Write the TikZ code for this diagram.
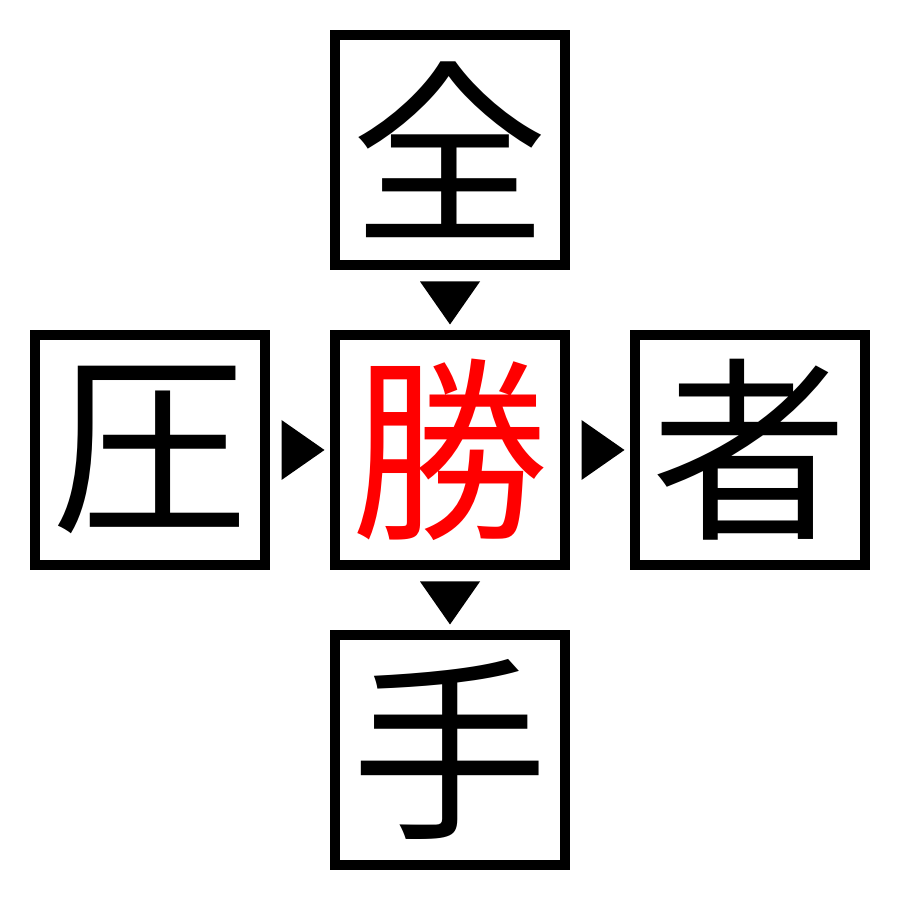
\documentclass[tikz,border=0pt]{standalone}
\usepackage{fontspec}
\newfontfamily\cjk{Noto Sans CJK JP}
\usetikzlibrary{calc}
\tikzset{
	kanji/.style={draw, line width=1mm, minimum size=2.3cm, inner sep=0pt,
		font=\cjk\fontsize{56}{56}\selectfont}
}
\begin{document}
\begin{tikzpicture}[line join=miter]
		\def\d{3} % Abstand der Kästchen
		\useasboundingbox (0,0) rectangle (9,9);
		\node[kanji] (mid) at (4.5,4.5) {\textcolor{red}{勝}};
		\node[kanji] (top) at (4.5,4.5+\d) {全};
		\node[kanji] (left) at (4.5-\d,4.5) {圧};
		\node[kanji] (right) at (4.5+\d,4.5) {者};
		\node[kanji] (bottom) at (4.5,4.5-\d) {手};
		\foreach \from/\to/\ang in {top/mid/-90, left/mid/0, mid/right/0, mid/bottom/-90}
			\fill[shift={($(\from)!0.5!(\to)$)}, rotate=\ang]
				(-0.185,0.3) -- (0.245,0) -- (-0.185,-0.3) -- cycle;
	\end{tikzpicture}
\end{document}
